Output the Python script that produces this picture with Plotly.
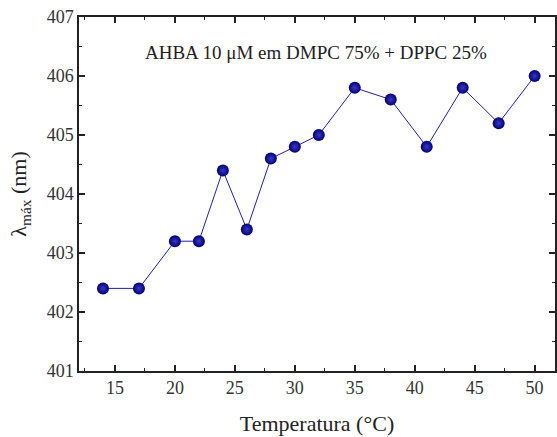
import plotly.graph_objects as go

temperatura = [14, 17, 20, 22, 24, 26, 28, 30, 32, 35, 38, 41, 44, 47, 50]
lambda_max = [402.4, 402.4, 403.2, 403.2, 404.4, 403.4, 404.6, 404.8, 405.0,
              405.8, 405.6, 404.8, 405.8, 405.2, 406.0]
x_ticks = [15, 20, 25, 30, 35, 40, 45, 50]
y_ticks = [401, 402, 403, 404, 405, 406, 407]

FONT = "Liberation Serif, DejaVu Serif, serif"

fig = go.Figure()
fig.add_trace(go.Scatter(
    x=temperatura, y=lambda_max, mode="lines+markers",
    line=dict(color="#2020a8", width=1),
    marker=dict(size=12, color="#000080",
                gradient=dict(type="radial", color="#3a3ab8"),
                line=dict(width=0)),
    showlegend=False,
))

fig.add_annotation(
    x=0.498, y=0.935, xref="paper", yref="paper",
    text="AHBA 10 μM em DMPC 75% + DPPC 25%",
    showarrow=False, font=dict(family=FONT, size=19, color="#222"),
)

axis_common = dict(
    showline=True, linecolor="#222", linewidth=1.5,
    ticks="inside", ticklen=6, tickwidth=1.5, tickcolor="#222",
    showgrid=False, zeroline=False,
    tickfont=dict(family=FONT, size=18, color="#333"),
)

fig.update_xaxes(
    range=[12.0, 51.7], tickvals=x_ticks, mirror="ticks",
    minor=dict(ticks="inside", ticklen=3, tickwidth=1.2, tickcolor="#222", dtick=2.5, tick0=12.5),
    title=dict(text="Temperatura (°C)", font=dict(family=FONT, size=22, color="#222"), standoff=18),
    **axis_common,
)
fig.update_yaxes(
    range=[401, 407], tickvals=y_ticks, mirror="ticks",
    minor=dict(ticks="inside", ticklen=3, tickwidth=1.2, tickcolor="#222", dtick=0.5, tick0=401),
    title=dict(text="λ<sub>máx</sub> (nm)", font=dict(family=FONT, size=22, color="#222"), standoff=14),
    **axis_common,
)

fig.update_layout(
    width=557, height=437,
    margin=dict(l=79, r=0, t=17, b=66),
    font=dict(family=FONT),
    plot_bgcolor="white", paper_bgcolor="white",
)

fig.write_html(
    "out.html",
    config={"displayModeBar": False},
    post_script="document.body.style.margin='0';document.body.style.overflow='hidden';",
)
